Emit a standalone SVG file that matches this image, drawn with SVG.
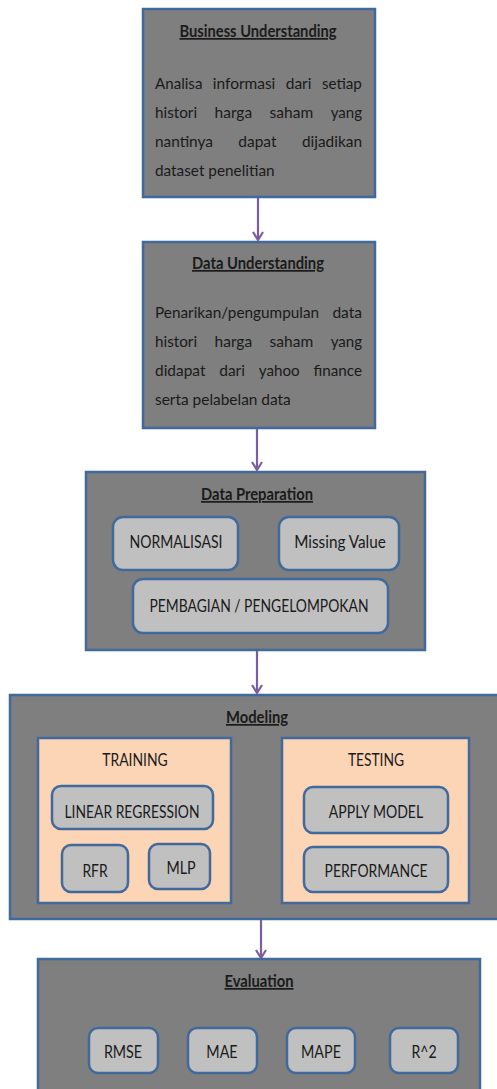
<svg xmlns="http://www.w3.org/2000/svg" width="497" height="1089" viewBox="0 0 497 1089">
<defs>
<style>
.main{fill:#7f7f7f;stroke:#41699c;stroke-width:2.5}
.sub{fill:#c0c0c0;stroke:#41699c;stroke-width:2.5}
.peach{fill:#fbd5b5;stroke:#41699c;stroke-width:2.5}
.t{font-family:Lato,"Liberation Sans",sans-serif;fill:#1a1a1a}
.title{font-size:17px;font-weight:bold;text-decoration:underline;text-anchor:middle}
.body{font-size:16px}
.lbl{font-size:17px;text-anchor:middle}
.conn{stroke:#7b5ea0;stroke-width:2.2;fill:none}
</style>
<marker id="arr" markerWidth="12" markerHeight="12" refX="10" refY="6" orient="auto" markerUnits="userSpaceOnUse">
<path d="M2,1 L10,6 L2,11" fill="none" stroke="#7b5ea0" stroke-width="2.2"/>
</marker>
</defs>
<rect width="497" height="1089" fill="#ffffff"/>

<g id="connectors">
<line class="conn" x1="258" y1="197" x2="258" y2="240" marker-end="url(#arr)"/>
<line class="conn" x1="257" y1="428" x2="257" y2="470" marker-end="url(#arr)"/>
<line class="conn" x1="257" y1="650" x2="257" y2="693" marker-end="url(#arr)"/>
<line class="conn" x1="261" y1="919" x2="261" y2="958" marker-end="url(#arr)"/>
</g>

<g id="business-understanding">
<rect class="main" x="143" y="9" width="232" height="188"/>
<text class="t title" x="258" y="37" textLength="157" lengthAdjust="spacingAndGlyphs">Business Understanding</text>
<text class="t body" x="155" y="89" textLength="47.4" lengthAdjust="spacingAndGlyphs">Analisa</text>
<text class="t body" x="212.8" y="89" textLength="62.5" lengthAdjust="spacingAndGlyphs">informasi</text>
<text class="t body" x="285.7" y="89" textLength="25.8" lengthAdjust="spacingAndGlyphs">dari</text>
<text class="t body" x="321.9" y="89" textLength="40" lengthAdjust="spacingAndGlyphs">setiap</text>
<text class="t body" x="155" y="118" textLength="42.1" lengthAdjust="spacingAndGlyphs">histori</text>
<text class="t body" x="214.6" y="118" textLength="37.5" lengthAdjust="spacingAndGlyphs">harga</text>
<text class="t body" x="269.6" y="118" textLength="43.6" lengthAdjust="spacingAndGlyphs">saham</text>
<text class="t body" x="330.7" y="118" textLength="31.4" lengthAdjust="spacingAndGlyphs">yang</text>
<text class="t body" x="155" y="147" textLength="57.9" lengthAdjust="spacingAndGlyphs">nantinya</text>
<text class="t body" x="238.3" y="147" textLength="38.2" lengthAdjust="spacingAndGlyphs">dapat</text>
<text class="t body" x="301.9" y="147" textLength="60.1" lengthAdjust="spacingAndGlyphs">dijadikan</text>
<text class="t body" x="155" y="176" textLength="119.6" lengthAdjust="spacingAndGlyphs">dataset penelitian</text>
</g>

<g id="data-understanding">
<rect class="main" x="143" y="242" width="232" height="186"/>
<text class="t title" x="258" y="269" textLength="132" lengthAdjust="spacingAndGlyphs">Data Understanding</text>
<text class="t body" x="155" y="318" textLength="164.1" lengthAdjust="spacingAndGlyphs">Penarikan/pengumpulan</text>
<text class="t body" x="332.4" y="318" textLength="29.6" lengthAdjust="spacingAndGlyphs">data</text>
<text class="t body" x="155" y="347" textLength="42.1" lengthAdjust="spacingAndGlyphs">histori</text>
<text class="t body" x="214.6" y="347" textLength="37.5" lengthAdjust="spacingAndGlyphs">harga</text>
<text class="t body" x="269.6" y="347" textLength="43.6" lengthAdjust="spacingAndGlyphs">saham</text>
<text class="t body" x="330.7" y="347" textLength="31.4" lengthAdjust="spacingAndGlyphs">yang</text>
<text class="t body" x="155" y="376" textLength="50.5" lengthAdjust="spacingAndGlyphs">didapat</text>
<text class="t body" x="219.2" y="376" textLength="25.8" lengthAdjust="spacingAndGlyphs">dari</text>
<text class="t body" x="258.8" y="376" textLength="40.9" lengthAdjust="spacingAndGlyphs">yahoo</text>
<text class="t body" x="313.4" y="376" textLength="48.6" lengthAdjust="spacingAndGlyphs">finance</text>
<text class="t body" x="155" y="405" textLength="135.8" lengthAdjust="spacingAndGlyphs">serta pelabelan data</text>
</g>

<g id="data-preparation">
<rect class="main" x="86" y="472" width="339" height="178"/>
<text class="t title" x="257" y="500" textLength="112" lengthAdjust="spacingAndGlyphs">Data Preparation</text>
<g id="normalisasi">
<rect class="sub" x="113" y="517" width="125" height="53" rx="10"/>
<text class="t lbl" x="176" y="548" textLength="93" lengthAdjust="spacingAndGlyphs">NORMALISASI</text>
</g>
<g id="missing-value">
<rect class="sub" x="279" y="517" width="120" height="53" rx="10"/>
<text class="t lbl" x="340" y="548" textLength="91.5" lengthAdjust="spacingAndGlyphs">Missing Value</text>
</g>
<g id="pembagian">
<rect class="sub" x="133" y="579" width="255" height="54" rx="10"/>
<text class="t lbl" x="259" y="612" textLength="219" lengthAdjust="spacingAndGlyphs">PEMBAGIAN / PENGELOMPOKAN</text>
</g>
</g>

<g id="modeling">
<rect class="main" x="10" y="695" width="500" height="224"/>
<text class="t title" x="257" y="723" textLength="62" lengthAdjust="spacingAndGlyphs">Modeling</text>
<g id="training">
<rect class="peach" x="38" y="738" width="193" height="165"/>
<text class="t lbl" x="135" y="766" textLength="65.5" lengthAdjust="spacingAndGlyphs">TRAINING</text>
<g id="linear-regression">
<rect class="sub" x="52" y="786" width="161" height="43" rx="9"/>
<text class="t lbl" x="132" y="818" textLength="135" lengthAdjust="spacingAndGlyphs">LINEAR REGRESSION</text>
</g>
<g id="rfr">
<rect class="sub" x="62" y="845" width="66" height="47" rx="9"/>
<text class="t lbl" x="95" y="877" textLength="25.2" lengthAdjust="spacingAndGlyphs">RFR</text>
</g>
<g id="mlp">
<rect class="sub" x="149" y="844" width="61" height="45" rx="9"/>
<text class="t lbl" x="181" y="874" textLength="29.2" lengthAdjust="spacingAndGlyphs">MLP</text>
</g>
</g>
<g id="testing">
<rect class="peach" x="282" y="738" width="187" height="165"/>
<text class="t lbl" x="376" y="766" textLength="56.2" lengthAdjust="spacingAndGlyphs">TESTING</text>
<g id="apply-model">
<rect class="sub" x="304" y="787" width="144" height="46" rx="9"/>
<text class="t lbl" x="376" y="818" textLength="94.3" lengthAdjust="spacingAndGlyphs">APPLY MODEL</text>
</g>
<g id="performance">
<rect class="sub" x="304" y="847" width="144" height="45" rx="9"/>
<text class="t lbl" x="376" y="877" textLength="102.9" lengthAdjust="spacingAndGlyphs">PERFORMANCE</text>
</g>
</g>
</g>

<g id="evaluation">
<rect class="main" x="38" y="959" width="442" height="140"/>
<text class="t title" x="259" y="987" textLength="69" lengthAdjust="spacingAndGlyphs">Evaluation</text>
<g id="rmse">
<rect class="sub" x="89" y="1028" width="69" height="45" rx="9"/>
<text class="t lbl" x="123" y="1058" textLength="38.2" lengthAdjust="spacingAndGlyphs">RMSE</text>
</g>
<g id="mae">
<rect class="sub" x="188" y="1028" width="69" height="45" rx="9"/>
<text class="t lbl" x="222" y="1058" textLength="31.3" lengthAdjust="spacingAndGlyphs">MAE</text>
</g>
<g id="mape">
<rect class="sub" x="287" y="1028" width="68" height="45" rx="9"/>
<text class="t lbl" x="321" y="1058" textLength="39.8" lengthAdjust="spacingAndGlyphs">MAPE</text>
</g>
<g id="r2">
<rect class="sub" x="390" y="1028" width="68" height="45" rx="9"/>
<text class="t lbl" x="424" y="1058" textLength="25.2" lengthAdjust="spacingAndGlyphs">R^2</text>
</g>
</g>
</svg>
